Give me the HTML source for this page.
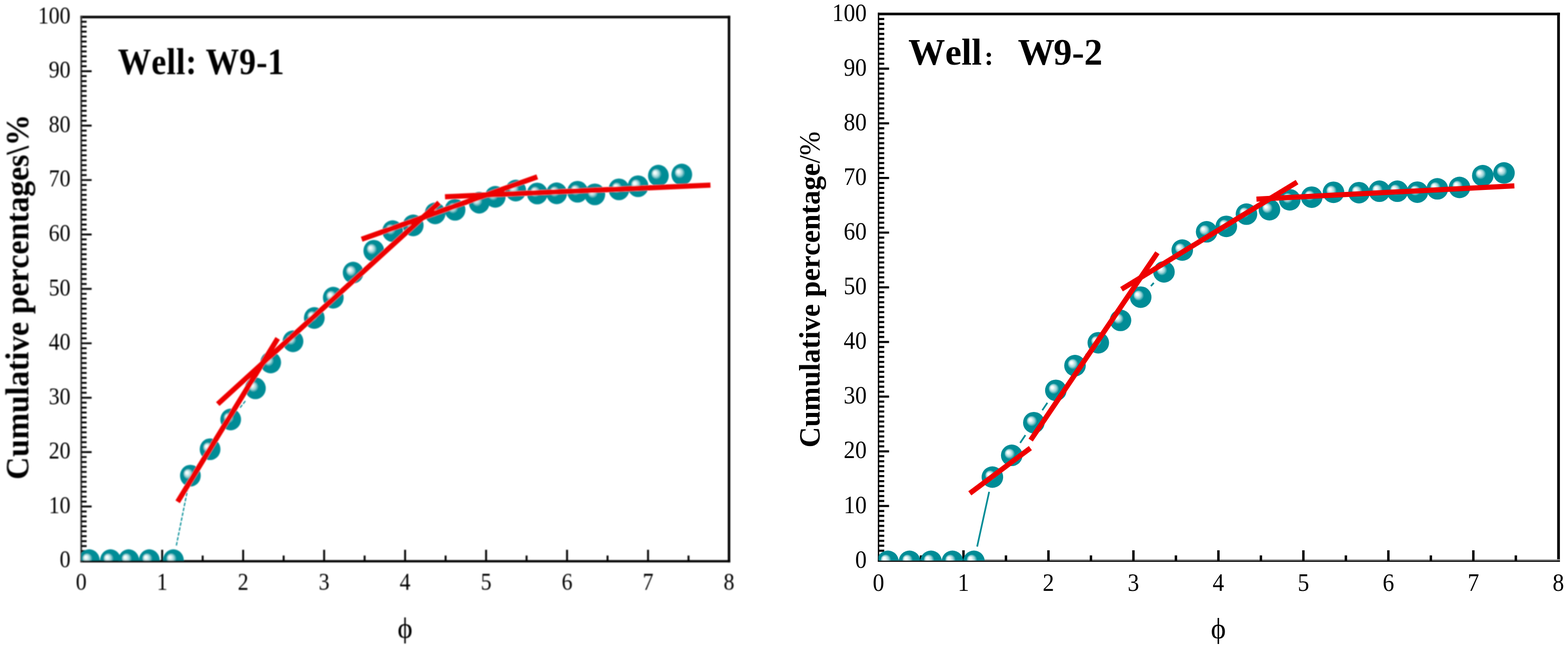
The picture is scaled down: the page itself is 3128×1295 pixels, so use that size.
<!DOCTYPE html>
<html lang="en">
<head>
<meta charset="utf-8">
<title>Cumulative percentage curves - Well W9-1 and W9-2</title>
<style>
html,body{margin:0;padding:0;background:#fff;width:3128px;height:1295px}
svg{display:block}
text{font-family:"Liberation Serif","Noto Serif CJK SC",serif;fill:#000;font-kerning:none}
</style>
</head>
<body>
<svg width="3128" height="1295" viewBox="0 0 3128 1295">
<defs>
<radialGradient id="ball" cx="0.5" cy="0.5" r="0.5" fx="0.31" fy="0.35">
<stop offset="0" stop-color="#ffffff"/>
<stop offset="0.12" stop-color="#f0fafa"/>
<stop offset="0.32" stop-color="#9ad2d6"/>
<stop offset="0.5" stop-color="#008c96"/>
<stop offset="1" stop-color="#008c96"/>
</radialGradient>
<filter id="soft" x="-2%" y="-2%" width="104%" height="104%"><feGaussianBlur stdDeviation="0.8"/></filter>
</defs>
<rect width="3128" height="1295" fill="#fff"/>
<clipPath id="clipL"><rect x="162" y="34" width="1292.3" height="1084.6"/></clipPath>
<g id="chartL" filter="url(#soft)">
<rect x="160.4" y="31.5" width="1296.4" height="5" fill="#000"/>
<rect x="1451.8" y="31.5" width="5" height="1090.7" fill="#000"/>
<rect x="160.4" y="1117.6" width="1296.4" height="4.6" fill="#000"/>
<rect x="160.4" y="31.5" width="3.4" height="1090.7" fill="#333"/>
<path d="M162 1109.43H172.8M162 1099.56H172.8M162 1089.69H172.8M162 1079.82H172.8M162 1069.95H172.8M162 1060.07H172.8M162 1050.2H172.8M162 1040.33H172.8M162 1030.46H172.8M162 1020.59H172.8M162 1010.72H182.8M162 1000.85H172.8M162 990.98H172.8M162 981.11H172.8M162 971.24H172.8M162 961.37H172.8M162 951.49H172.8M162 941.62H172.8M162 931.75H172.8M162 921.88H172.8M162 912.01H172.8M162 902.14H182.8M162 892.27H172.8M162 882.4H172.8M162 872.53H172.8M162 862.66H172.8M162 852.79H172.8M162 842.91H172.8M162 833.04H172.8M162 823.17H172.8M162 813.3H172.8M162 803.43H172.8M162 793.56H182.8M162 783.69H172.8M162 773.82H172.8M162 763.95H172.8M162 754.08H172.8M162 744.21H172.8M162 734.33H172.8M162 724.46H172.8M162 714.59H172.8M162 704.72H172.8M162 694.85H172.8M162 684.98H182.8M162 675.11H172.8M162 665.24H172.8M162 655.37H172.8M162 645.5H172.8M162 635.63H172.8M162 625.75H172.8M162 615.88H172.8M162 606.01H172.8M162 596.14H172.8M162 586.27H172.8M162 576.4H182.8M162 566.53H172.8M162 556.66H172.8M162 546.79H172.8M162 536.92H172.8M162 527.05H172.8M162 517.17H172.8M162 507.3H172.8M162 497.43H172.8M162 487.56H172.8M162 477.69H172.8M162 467.82H182.8M162 457.95H172.8M162 448.08H172.8M162 438.21H172.8M162 428.34H172.8M162 418.47H172.8M162 408.59H172.8M162 398.72H172.8M162 388.85H172.8M162 378.98H172.8M162 369.11H172.8M162 359.24H182.8M162 349.37H172.8M162 339.5H172.8M162 329.63H172.8M162 319.76H172.8M162 309.89H172.8M162 300.01H172.8M162 290.14H172.8M162 280.27H172.8M162 270.4H172.8M162 260.53H172.8M162 250.66H182.8M162 240.79H172.8M162 230.92H172.8M162 221.05H172.8M162 211.18H172.8M162 201.31H172.8M162 191.43H172.8M162 181.56H172.8M162 171.69H172.8M162 161.82H172.8M162 151.95H172.8M162 142.08H182.8M162 132.21H172.8M162 122.34H172.8M162 112.47H172.8M162 102.6H172.8M162 92.73H172.8M162 82.85H172.8M162 72.98H172.8M162 63.11H172.8M162 53.24H172.8M162 43.37H172.8" fill="none" stroke="#000" stroke-width="3.7"/>
<path d="M242.77 1119.8V1108.5M323.54 1119.8V1097M404.31 1119.8V1108.5M485.07 1119.8V1097M565.84 1119.8V1108.5M646.61 1119.8V1097M727.38 1119.8V1108.5M808.15 1119.8V1097M888.92 1119.8V1108.5M969.69 1119.8V1097M1050.46 1119.8V1108.5M1131.22 1119.8V1097M1211.99 1119.8V1108.5M1292.76 1119.8V1097M1373.53 1119.8V1108.5" fill="none" stroke="#000" stroke-width="3.8"/>
<g clip-path="url(#clipL)">
<path d="M351.81 1088.39L373.89 978.51M397.73 925.05L401.17 920.45M436.17 871.73L443.13 861.67M478.85 813.5L490.85 798.4" fill="none" stroke="#008c96" stroke-width="2.4" stroke-dasharray="7 3"/>
<ellipse cx="178.1" cy="1117.8" rx="20.7" ry="21.7" fill="url(#ball)"/>
<ellipse cx="220.4" cy="1117.8" rx="20.7" ry="21.7" fill="url(#ball)"/>
<ellipse cx="256.7" cy="1117.8" rx="20.7" ry="21.7" fill="url(#ball)"/>
<ellipse cx="297.8" cy="1117.8" rx="20.7" ry="21.7" fill="url(#ball)"/>
<ellipse cx="345.9" cy="1117.8" rx="20.7" ry="21.7" fill="url(#ball)"/>
<ellipse cx="379.8" cy="949.1" rx="20.7" ry="21.7" fill="url(#ball)"/>
<ellipse cx="419.1" cy="896.4" rx="20.7" ry="21.7" fill="url(#ball)"/>
<ellipse cx="460.2" cy="837" rx="20.7" ry="21.7" fill="url(#ball)"/>
<ellipse cx="509.5" cy="774.9" rx="20.7" ry="21.7" fill="url(#ball)"/>
<ellipse cx="540" cy="723.3" rx="20.7" ry="21.7" fill="url(#ball)"/>
<ellipse cx="584.5" cy="681" rx="20.7" ry="21.7" fill="url(#ball)"/>
<ellipse cx="627" cy="634.5" rx="20.7" ry="21.7" fill="url(#ball)"/>
<ellipse cx="664.9" cy="594" rx="20.7" ry="21.7" fill="url(#ball)"/>
<ellipse cx="704.5" cy="544" rx="20.7" ry="21.7" fill="url(#ball)"/>
<ellipse cx="745.7" cy="500.4" rx="20.7" ry="21.7" fill="url(#ball)"/>
<ellipse cx="783.3" cy="461.2" rx="20.7" ry="21.7" fill="url(#ball)"/>
<ellipse cx="824.3" cy="449.7" rx="20.7" ry="21.7" fill="url(#ball)"/>
<ellipse cx="868.1" cy="425.7" rx="20.7" ry="21.7" fill="url(#ball)"/>
<ellipse cx="907.8" cy="418.6" rx="20.7" ry="21.7" fill="url(#ball)"/>
<ellipse cx="956" cy="404.5" rx="20.7" ry="21.7" fill="url(#ball)"/>
<ellipse cx="988" cy="392.7" rx="20.7" ry="21.7" fill="url(#ball)"/>
<ellipse cx="1028.9" cy="380.2" rx="20.7" ry="21.7" fill="url(#ball)"/>
<ellipse cx="1071.8" cy="386.1" rx="20.7" ry="21.7" fill="url(#ball)"/>
<ellipse cx="1110.5" cy="385.7" rx="20.7" ry="21.7" fill="url(#ball)"/>
<ellipse cx="1152.2" cy="382.6" rx="20.7" ry="21.7" fill="url(#ball)"/>
<ellipse cx="1186.6" cy="387.9" rx="20.7" ry="21.7" fill="url(#ball)"/>
<ellipse cx="1234.7" cy="377.9" rx="20.7" ry="21.7" fill="url(#ball)"/>
<ellipse cx="1272.9" cy="371.6" rx="20.7" ry="21.7" fill="url(#ball)"/>
<ellipse cx="1313.4" cy="350.5" rx="20.7" ry="21.7" fill="url(#ball)"/>
<ellipse cx="1360.1" cy="348.2" rx="20.7" ry="21.7" fill="url(#ball)"/>
</g>
<line x1="354.4" y1="1001.3" x2="554" y2="675.2" stroke="#ee0000" stroke-width="10.3"/>
<line x1="434.4" y1="806.2" x2="875.9" y2="404.4" stroke="#ee0000" stroke-width="10.3"/>
<line x1="721.5" y1="477.3" x2="1071.8" y2="352.8" stroke="#ee0000" stroke-width="10.3"/>
<line x1="887.7" y1="392.7" x2="1417.3" y2="369.3" stroke="#ee0000" stroke-width="10.3"/>
<text transform="translate(140.5 1132.4) scale(0.9 1)" text-anchor="end" font-size="48">0</text>
<text transform="translate(140.5 1023.82) scale(0.9 1)" text-anchor="end" font-size="48">10</text>
<text transform="translate(140.5 915.24) scale(0.9 1)" text-anchor="end" font-size="48">20</text>
<text transform="translate(140.5 806.66) scale(0.9 1)" text-anchor="end" font-size="48">30</text>
<text transform="translate(140.5 698.08) scale(0.9 1)" text-anchor="end" font-size="48">40</text>
<text transform="translate(140.5 589.5) scale(0.9 1)" text-anchor="end" font-size="48">50</text>
<text transform="translate(140.5 480.92) scale(0.9 1)" text-anchor="end" font-size="48">60</text>
<text transform="translate(140.5 372.34) scale(0.9 1)" text-anchor="end" font-size="48">70</text>
<text transform="translate(140.5 263.76) scale(0.9 1)" text-anchor="end" font-size="48">80</text>
<text transform="translate(140.5 155.18) scale(0.9 1)" text-anchor="end" font-size="48">90</text>
<text transform="translate(140.5 46.6) scale(0.9 1)" text-anchor="end" font-size="48">100</text>
<text transform="translate(162 1177) scale(0.9 1)" text-anchor="middle" font-size="48">0</text>
<text transform="translate(323.54 1177) scale(0.9 1)" text-anchor="middle" font-size="48">1</text>
<text transform="translate(485.07 1177) scale(0.9 1)" text-anchor="middle" font-size="48">2</text>
<text transform="translate(646.61 1177) scale(0.9 1)" text-anchor="middle" font-size="48">3</text>
<text transform="translate(808.15 1177) scale(0.9 1)" text-anchor="middle" font-size="48">4</text>
<text transform="translate(969.69 1177) scale(0.9 1)" text-anchor="middle" font-size="48">5</text>
<text transform="translate(1131.22 1177) scale(0.9 1)" text-anchor="middle" font-size="48">6</text>
<text transform="translate(1292.76 1177) scale(0.9 1)" text-anchor="middle" font-size="48">7</text>
<text transform="translate(1454.3 1177) scale(0.9 1)" text-anchor="middle" font-size="48">8</text>
<text transform="translate(235 147.8) scale(0.9 1)" font-size="74" font-weight="bold" letter-spacing="0.6">Well: W9-1</text>
<text transform="translate(56.5 957.1) rotate(-90) scale(0.954 1)" font-size="66" font-weight="bold">Cumulative percentages\%</text>
<text transform="translate(808 1272) scale(1 1)" text-anchor="middle" font-size="57">ϕ</text>
</g>
<clipPath id="clipR"><rect x="1752.5" y="27.9" width="1356.2" height="1090.7"/></clipPath>
<g id="chartR">
<rect x="1751.2" y="25.3" width="1360.6" height="5.2" fill="#000"/>
<rect x="3106.4" y="25.3" width="5.4" height="1095.7" fill="#000"/>
<rect x="1751.2" y="1115.9" width="1360.6" height="2.7" fill="#a0a0a0"/>
<rect x="1751.2" y="1118.5" width="1360.6" height="2.5" fill="#000"/>
<rect x="1751.2" y="25.3" width="2.8" height="1095.7" fill="#000"/>
<path d="M1752.5 1108.78H1764M1752.5 1098.87H1764M1752.5 1088.95H1764M1752.5 1079.03H1764M1752.5 1069.12H1764M1752.5 1059.2H1764M1752.5 1049.29H1764M1752.5 1039.37H1764M1752.5 1029.45H1764M1752.5 1019.54H1764M1752.5 1009.62H1773.6M1752.5 999.7H1764M1752.5 989.79H1764M1752.5 979.87H1764M1752.5 969.95H1764M1752.5 960.04H1764M1752.5 950.12H1764M1752.5 940.21H1764M1752.5 930.29H1764M1752.5 920.37H1764M1752.5 910.46H1764M1752.5 900.54H1773.6M1752.5 890.62H1764M1752.5 880.71H1764M1752.5 870.79H1764M1752.5 860.87H1764M1752.5 850.96H1764M1752.5 841.04H1764M1752.5 831.13H1764M1752.5 821.21H1764M1752.5 811.29H1764M1752.5 801.38H1764M1752.5 791.46H1773.6M1752.5 781.54H1764M1752.5 771.63H1764M1752.5 761.71H1764M1752.5 751.79H1764M1752.5 741.88H1764M1752.5 731.96H1764M1752.5 722.05H1764M1752.5 712.13H1764M1752.5 702.21H1764M1752.5 692.3H1764M1752.5 682.38H1773.6M1752.5 672.46H1764M1752.5 662.55H1764M1752.5 652.63H1764M1752.5 642.71H1764M1752.5 632.8H1764M1752.5 622.88H1764M1752.5 612.97H1764M1752.5 603.05H1764M1752.5 593.13H1764M1752.5 583.22H1764M1752.5 573.3H1773.6M1752.5 563.38H1764M1752.5 553.47H1764M1752.5 543.55H1764M1752.5 533.63H1764M1752.5 523.72H1764M1752.5 513.8H1764M1752.5 503.89H1764M1752.5 493.97H1764M1752.5 484.05H1764M1752.5 474.14H1764M1752.5 464.22H1773.6M1752.5 454.3H1764M1752.5 444.39H1764M1752.5 434.47H1764M1752.5 424.55H1764M1752.5 414.64H1764M1752.5 404.72H1764M1752.5 394.81H1764M1752.5 384.89H1764M1752.5 374.97H1764M1752.5 365.06H1764M1752.5 355.14H1773.6M1752.5 345.22H1764M1752.5 335.31H1764M1752.5 325.39H1764M1752.5 315.47H1764M1752.5 305.56H1764M1752.5 295.64H1764M1752.5 285.73H1764M1752.5 275.81H1764M1752.5 265.89H1764M1752.5 255.98H1764M1752.5 246.06H1773.6M1752.5 236.14H1764M1752.5 226.23H1764M1752.5 216.31H1764M1752.5 206.39H1764M1752.5 196.48H1764M1752.5 186.56H1764M1752.5 176.65H1764M1752.5 166.73H1764M1752.5 156.81H1764M1752.5 146.9H1764M1752.5 136.98H1773.6M1752.5 127.06H1764M1752.5 117.15H1764M1752.5 107.23H1764M1752.5 97.31H1764M1752.5 87.4H1764M1752.5 77.48H1764M1752.5 67.57H1764M1752.5 57.65H1764M1752.5 47.73H1764M1752.5 37.82H1764" fill="none" stroke="#000" stroke-width="4.3"/>
<path d="M1837.26 1118.7V1108.3M1922.03 1118.7V1098M2006.79 1118.7V1108.3M2091.55 1118.7V1098M2176.31 1118.7V1108.3M2261.07 1118.7V1098M2345.84 1118.7V1108.3M2430.6 1118.7V1098M2515.36 1118.7V1108.3M2600.12 1118.7V1098M2684.89 1118.7V1108.3M2769.65 1118.7V1098M2854.41 1118.7V1108.3M2939.17 1118.7V1098M3023.94 1118.7V1108.3" fill="none" stroke="#000" stroke-width="4.8"/>
<g clip-path="url(#clipR)">
<path d="M1949.32 1090.69L1973.28 981.31M2035.11 883.75L2045.59 868.25M2079.28 818.6L2089.42 803.7M2165.9 708.57L2169.6 704.93M2295.9 570.81L2301.7 564.49" fill="none" stroke="#008c96" stroke-width="3.4"/>
<ellipse cx="1771.2" cy="1120" rx="21.5" ry="21.5" fill="url(#ball)"/>
<ellipse cx="1814.4" cy="1120" rx="21.5" ry="21.5" fill="url(#ball)"/>
<ellipse cx="1857.3" cy="1120" rx="21.5" ry="21.5" fill="url(#ball)"/>
<ellipse cx="1900" cy="1120" rx="21.5" ry="21.5" fill="url(#ball)"/>
<ellipse cx="1942.9" cy="1120" rx="21.5" ry="21.5" fill="url(#ball)"/>
<ellipse cx="1979.7" cy="952" rx="21.5" ry="21.5" fill="url(#ball)"/>
<ellipse cx="2018.3" cy="908.6" rx="21.5" ry="21.5" fill="url(#ball)"/>
<ellipse cx="2062.4" cy="843.4" rx="21.5" ry="21.5" fill="url(#ball)"/>
<ellipse cx="2106.3" cy="778.9" rx="21.5" ry="21.5" fill="url(#ball)"/>
<ellipse cx="2144.5" cy="729.6" rx="21.5" ry="21.5" fill="url(#ball)"/>
<ellipse cx="2191" cy="683.9" rx="21.5" ry="21.5" fill="url(#ball)"/>
<ellipse cx="2235.3" cy="639.3" rx="21.5" ry="21.5" fill="url(#ball)"/>
<ellipse cx="2275.6" cy="592.9" rx="21.5" ry="21.5" fill="url(#ball)"/>
<ellipse cx="2322" cy="542.4" rx="21.5" ry="21.5" fill="url(#ball)"/>
<ellipse cx="2358.5" cy="499" rx="21.5" ry="21.5" fill="url(#ball)"/>
<ellipse cx="2407.1" cy="462.6" rx="21.5" ry="21.5" fill="url(#ball)"/>
<ellipse cx="2446.4" cy="451.7" rx="21.5" ry="21.5" fill="url(#ball)"/>
<ellipse cx="2486.6" cy="427.3" rx="21.5" ry="21.5" fill="url(#ball)"/>
<ellipse cx="2532.4" cy="418.5" rx="21.5" ry="21.5" fill="url(#ball)"/>
<ellipse cx="2573" cy="398.7" rx="21.5" ry="21.5" fill="url(#ball)"/>
<ellipse cx="2616.8" cy="393.4" rx="21.5" ry="21.5" fill="url(#ball)"/>
<ellipse cx="2660.2" cy="383.7" rx="21.5" ry="21.5" fill="url(#ball)"/>
<ellipse cx="2711.1" cy="384.4" rx="21.5" ry="21.5" fill="url(#ball)"/>
<ellipse cx="2751.8" cy="381.6" rx="21.5" ry="21.5" fill="url(#ball)"/>
<ellipse cx="2787.6" cy="381.6" rx="21.5" ry="21.5" fill="url(#ball)"/>
<ellipse cx="2827.5" cy="383.4" rx="21.5" ry="21.5" fill="url(#ball)"/>
<ellipse cx="2867.4" cy="376.8" rx="21.5" ry="21.5" fill="url(#ball)"/>
<ellipse cx="2911.6" cy="374" rx="21.5" ry="21.5" fill="url(#ball)"/>
<ellipse cx="2958" cy="350.5" rx="21.5" ry="21.5" fill="url(#ball)"/>
<ellipse cx="3000.3" cy="345" rx="21.5" ry="21.5" fill="url(#ball)"/>
</g>
<line x1="1934.7" y1="984.4" x2="2055.5" y2="894.1" stroke="#ee0000" stroke-width="10.3"/>
<line x1="2056.1" y1="878.1" x2="2308.9" y2="504.4" stroke="#ee0000" stroke-width="10.3"/>
<line x1="2237.3" y1="577.2" x2="2587.5" y2="363.3" stroke="#ee0000" stroke-width="10.3"/>
<line x1="2506.5" y1="397.3" x2="3021" y2="370.9" stroke="#ee0000" stroke-width="10.3"/>
<text transform="translate(1729 1132.6) scale(0.92 1)" text-anchor="end" font-size="50">0</text>
<text transform="translate(1729 1023.52) scale(0.92 1)" text-anchor="end" font-size="50">10</text>
<text transform="translate(1729 914.44) scale(0.92 1)" text-anchor="end" font-size="50">20</text>
<text transform="translate(1729 805.36) scale(0.92 1)" text-anchor="end" font-size="50">30</text>
<text transform="translate(1729 696.28) scale(0.92 1)" text-anchor="end" font-size="50">40</text>
<text transform="translate(1729 587.2) scale(0.92 1)" text-anchor="end" font-size="50">50</text>
<text transform="translate(1729 478.12) scale(0.92 1)" text-anchor="end" font-size="50">60</text>
<text transform="translate(1729 369.04) scale(0.92 1)" text-anchor="end" font-size="50">70</text>
<text transform="translate(1729 259.96) scale(0.92 1)" text-anchor="end" font-size="50">80</text>
<text transform="translate(1729 150.88) scale(0.92 1)" text-anchor="end" font-size="50">90</text>
<text transform="translate(1729 41.8) scale(0.92 1)" text-anchor="end" font-size="50">100</text>
<text transform="translate(1752.5 1179.2) scale(0.92 1)" text-anchor="middle" font-size="50">0</text>
<text transform="translate(1922.03 1179.2) scale(0.92 1)" text-anchor="middle" font-size="50">1</text>
<text transform="translate(2091.55 1179.2) scale(0.92 1)" text-anchor="middle" font-size="50">2</text>
<text transform="translate(2261.07 1179.2) scale(0.92 1)" text-anchor="middle" font-size="50">3</text>
<text transform="translate(2430.6 1179.2) scale(0.92 1)" text-anchor="middle" font-size="50">4</text>
<text transform="translate(2600.12 1179.2) scale(0.92 1)" text-anchor="middle" font-size="50">5</text>
<text transform="translate(2769.65 1179.2) scale(0.92 1)" text-anchor="middle" font-size="50">6</text>
<text transform="translate(2939.17 1179.2) scale(0.92 1)" text-anchor="middle" font-size="50">7</text>
<text transform="translate(3108.7 1179.2) scale(0.92 1)" text-anchor="middle" font-size="50">8</text>
<text transform="translate(1812 129.4)" font-size="73.4" font-weight="bold">Well<tspan x="148.2" dy="1.6" font-size="43" font-weight="900">：</tspan><tspan x="218.5" dy="-1.6">W<tspan dx="-2.2">9-2</tspan></tspan></text>
<text transform="translate(1635 893) rotate(-90) scale(0.9615 1)" font-size="59.5" font-weight="bold">Cumulative percentage<tspan font-weight="normal">/%</tspan></text>
<text transform="translate(2430.4 1273) scale(1 1)" text-anchor="middle" font-size="57">ϕ</text>
</g>
</svg>
</body>
</html>
